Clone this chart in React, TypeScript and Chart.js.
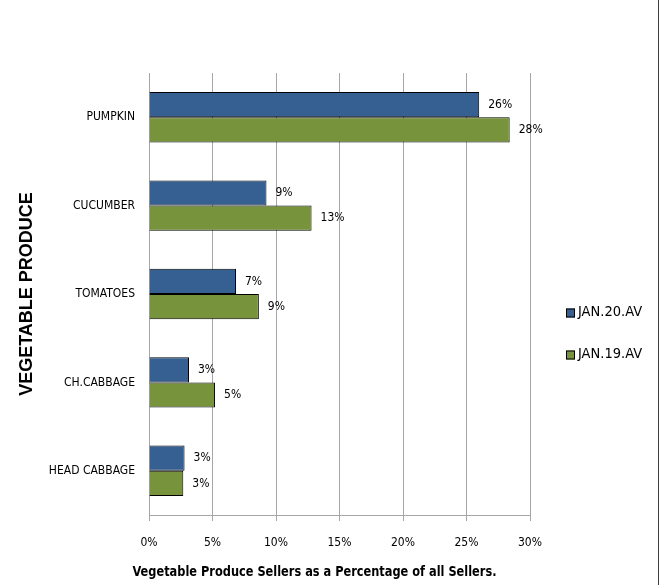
import React, { useEffect, useRef } from "react";
import { Chart, registerables } from "chart.js";

Chart.register(...registerables);

const categories = ["PUMPKIN", "CUCUMBER", "TOMATOES", "CH.CABBAGE", "HEAD CABBAGE"];
const seriesNames = ["JAN.20.AV", "JAN.19.AV"];
const jan20 = [26.0, 9.25, 6.85, 3.15, 2.8];
const jan19 = [28.4, 12.8, 8.65, 5.2, 2.7];
const seriesColors = ["#376092", "#77933C"];
const xTickStep = 5;
const xMax = 30;
const xTitle = "Vegetable Produce Sellers as a Percentage of all Sellers.";
const yTitle = "VEGETABLE PRODUCE";

const NARROW = "'DejaVu Sans Condensed', 'Liberation Sans Narrow', sans-serif";
const SANS = "'Liberation Sans', Arial, sans-serif";

const valueLabels = {
  id: "valueLabels",
  afterDatasetsDraw(chart: any) {
    const ctx = chart.ctx;
    ctx.save();
    ctx.font = `12px ${NARROW}`;
    ctx.fillStyle = "#000";
    ctx.textAlign = "left";
    ctx.textBaseline = "middle";
    chart.data.datasets.forEach((ds: any, di: number) => {
      const meta = chart.getDatasetMeta(di);
      meta.data.forEach((bar: any, i: number) => {
        const v = ds.data[i];
        ctx.fillText(Math.round(v) + "%", bar.x + 9, bar.y);
      });
    });
    ctx.restore();
  },
};

const xAxisTitle = {
  id: "xAxisTitle",
  afterDraw(chart: any) {
    const ctx = chart.ctx;
    const area = chart.chartArea;
    ctx.save();
    ctx.font = `bold 14.5px ${NARROW}`;
    ctx.fillStyle = "#000";
    ctx.textAlign = "center";
    ctx.textBaseline = "middle";
    ctx.fillText(xTitle, (area.left + area.right) / 2 - 25, chart.height - 13, 364);
    ctx.restore();
  },
};

const sideLegend = {
  id: "sideLegend",
  afterDraw(chart: any) {
    const ctx = chart.ctx;
    const area = chart.chartArea;
    const x0 = area.right + 36;
    const midY = (area.top + area.bottom) / 2 + 40;
    const gap = 42;
    ctx.save();
    ctx.font = `14.5px ${NARROW}`;
    ctx.textAlign = "left";
    ctx.textBaseline = "middle";
    chart.data.datasets.forEach((ds: any, i: number) => {
      const y = midY + (i - (chart.data.datasets.length - 1) / 2) * gap;
      ctx.fillStyle = ds.backgroundColor;
      ctx.fillRect(x0, y - 4.5, 9, 9);
      ctx.strokeStyle = "#000";
      ctx.lineWidth = 1;
      ctx.strokeRect(x0 + 0.5, y - 4, 8, 8);
      ctx.fillStyle = "#000";
      ctx.fillText(ds.label, x0 + 12, y - 1);
    });
    ctx.restore();
  },
};

export default function App() {
  const canvasRef = useRef<HTMLCanvasElement | null>(null);

  useEffect(() => {
    if (!canvasRef.current) return;
    const chart = new Chart(canvasRef.current, {
      type: "bar",
      data: {
        labels: categories,
        datasets: [
          {
            label: seriesNames[0],
            data: jan20,
            backgroundColor: seriesColors[0],
            borderColor: "#000",
            borderWidth: 1,
            categoryPercentage: 0.57,
            barPercentage: 1,
          },
          {
            label: seriesNames[1],
            data: jan19,
            backgroundColor: seriesColors[1],
            borderColor: "#000",
            borderWidth: 1,
            categoryPercentage: 0.57,
            barPercentage: 1,
          },
        ],
      },
      options: {
        indexAxis: "y",
        responsive: false,
        animation: false,
        layout: { padding: { top: 73, right: 132, bottom: 0, left: 0 } },
        plugins: {
          legend: { display: false },
          tooltip: { enabled: false },
        },
        scales: {
          x: {
            min: 0,
            max: xMax,
            ticks: {
              stepSize: xTickStep,
              callback: (v: any) => v + "%",
              font: { family: NARROW, size: 12 },
              color: "#000",
              padding: 15,
              maxRotation: 0,
            },
            grid: { color: "#A6A6A6", lineWidth: 1, tickLength: 6, drawTicks: true },
            border: { color: "#A6A6A6", width: 1 },
            afterFit: (scale: any) => {
              scale.height = 70;
            },
          },
          y: {
            ticks: {
              font: { family: NARROW, size: 12 },
              color: "#000",
              padding: 6,
            },
            grid: { display: false },
            border: { color: "#A6A6A6", width: 1 },
            title: {
              display: true,
              text: yTitle,
              font: { family: SANS, size: 18, weight: "bold" },
              color: "#000",
              padding: { top: 16, bottom: 0 },
            },
            afterFit: (scale: any) => {
              scale.width = 149;
            },
          },
        },
      },
      plugins: [valueLabels, sideLegend, xAxisTitle],
    });
    return () => chart.destroy();
  }, []);

  return (
    <div style={{ position: "absolute", left: 0, top: 0, width: 662, height: 585, background: "#fff" }}>
      <canvas ref={canvasRef} width={662} height={585} style={{ width: 662, height: 585, display: "block" }} />
      <div style={{ position: "absolute", left: 658, top: 0, width: 1, height: 585, background: "#404040" }} />
    </div>
  );
}
